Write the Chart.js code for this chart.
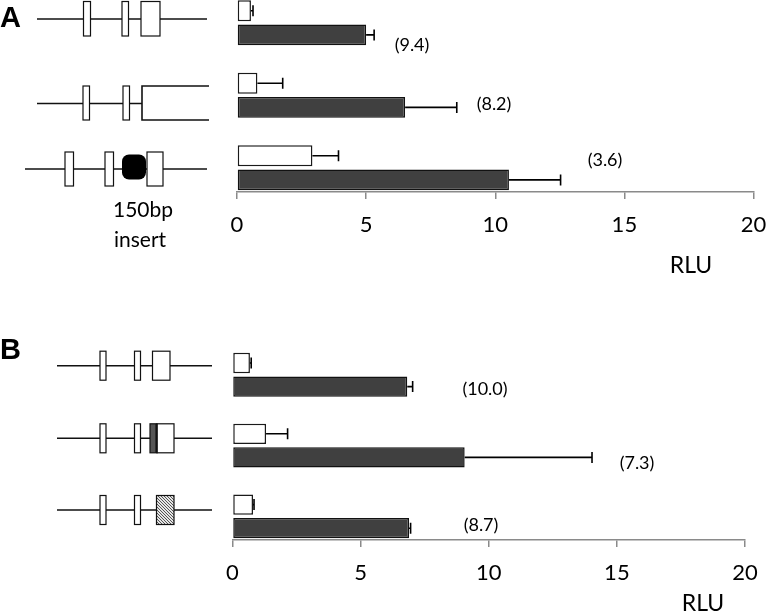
<!DOCTYPE html>
<html>
<head>
<meta charset="utf-8">
<script src="https://cdn.jsdelivr.net/npm/chart.js@4.4.1/dist/chart.umd.min.js"></script>
<style>
  html, body { margin: 0; padding: 0; background: #fff; overflow: hidden; }
  body { width: 766px; height: 613px; position: relative; }
  .panel { position: absolute; left: 0; width: 766px; }
  #panelA { top: -30px; height: 320px; }
  #panelB { top: 300px; height: 313px; }
</style>
</head>
<body>
<div class="panel" id="panelA"><canvas id="chartA"></canvas></div>
<div class="panel" id="panelB"><canvas id="chartB"></canvas></div>
<script>
// constructs (drawn as schematics on the left)
const constructsA = ['full length', '3\' truncated', '150bp insert'];
const constructsB = ['full length', 'mutated', 'replaced'];

// RLU values, white = basal, dark = induced
const basalA = [0.54, 0.79, 2.92];
const basalErrA = [0.08, 0.98, 1.01];
const inducedA = [5.0, 6.51, 10.53];
const inducedErrA = [0.31, 2.0, 2.0];
const foldA = ['(9.4)', '(8.2)', '(3.6)'];

const basalB = [0.68, 1.31, 0.80];
const basalErrB = [0.05, 0.84, 0.04];
const inducedB = [6.82, 9.06, 6.89];
const inducedErrB = [0.21, 4.97, 0.06];
const foldB = ['(10.0)', '(7.3)', '(8.7)'];

const xTicks = [0, 5, 10, 15, 20];

const FONT = 'Lato, "Open Sans", sans-serif';

// page coordinates of the fold labels
const foldPosA = [[412, 45], [494, 104], [605, 160]];
const foldPosB = [[485, 389], [637, 463], [481, 525]];

function box(ctx, x, y, w, h, fill) {
    ctx.fillStyle = fill || '#fff';
    ctx.fillRect(x, y, w, h);
    ctx.strokeRect(x, y, w, h);
}

function hatchBox(ctx, x, y, w, h) {
    ctx.save();
    ctx.fillStyle = '#e6e6e6';
    ctx.fillRect(x, y, w, h);
    ctx.beginPath();
    ctx.rect(x, y, w, h);
    ctx.clip();
    ctx.strokeStyle = '#555';
    ctx.lineWidth = 1;
    ctx.beginPath();
    for (let d = -h; d < w + h; d += 3) {
        ctx.moveTo(x + d, y);
        ctx.lineTo(x + d + h, y + h);
    }
    ctx.stroke();
    ctx.restore();
    ctx.strokeRect(x, y, w, h);
}

function hline(ctx, x0, x1, y) {
    ctx.beginPath();
    ctx.moveTo(x0, y);
    ctx.lineTo(x1, y);
    ctx.stroke();
}

function drawSchemesA(ctx) {
    ctx.strokeStyle = '#111';
    ctx.lineWidth = 1.6;
    // row 1
    hline(ctx, 37, 207, 19);
    ctx.lineWidth = 1.2;
    box(ctx, 83.5, 1.5, 7, 34.5);
    box(ctx, 122, 1.5, 6.5, 34.5);
    box(ctx, 141, 1.5, 19, 34.5);
    // row 2
    ctx.lineWidth = 1.6;
    hline(ctx, 37, 142, 103.5);
    ctx.beginPath();
    ctx.moveTo(209, 86); ctx.lineTo(142, 86); ctx.lineTo(142, 120); ctx.lineTo(209, 120);
    ctx.stroke();
    ctx.lineWidth = 1.2;
    box(ctx, 83, 86, 6.5, 34);
    box(ctx, 123, 86, 6.5, 34);
    // row 3
    ctx.lineWidth = 1.6;
    hline(ctx, 25, 207, 169);
    ctx.lineWidth = 1.2;
    box(ctx, 65, 152, 8.5, 34);
    box(ctx, 105, 152, 8.5, 34);
    ctx.fillStyle = '#000';
    ctx.beginPath();
    ctx.roundRect(122, 154.5, 24, 25, 7);
    ctx.fill();
    box(ctx, 147, 152, 16, 34);

    ctx.fillStyle = '#000';
    ctx.font = '21px ' + FONT;
    ctx.textAlign = 'center';
    ctx.textBaseline = 'alphabetic';
    ctx.fillText('150bp', 143, 217);
    ctx.fillText('insert', 140, 247);

    ctx.font = 'bold 29px "Liberation Sans", Arial, sans-serif';
    ctx.textAlign = 'left';
    ctx.fillText('A', 0, 27);
}

function drawSchemesB(ctx) {
    const rows = [365.7, 438.3, 510];
    rows.forEach(y => {
        ctx.strokeStyle = '#111';
        ctx.lineWidth = 1.6;
        hline(ctx, 57, 212, y);
        ctx.lineWidth = 1.2;
        box(ctx, 100, y - 14.5, 6, 29);
        box(ctx, 134.5, y - 14.5, 6, 29);
    });
    // row 1: wild type exon
    box(ctx, 152.5, rows[0] - 14.5, 17.5, 29);
    // row 2: small dark stretch then exon
    box(ctx, 150, rows[1] - 14.5, 7, 29, '#555');
    box(ctx, 157, rows[1] - 14.5, 17, 29);
    ctx.lineWidth = 2.2;
    ctx.beginPath();
    ctx.moveTo(156.5, rows[1] - 14.5); ctx.lineTo(156.5, rows[1] + 14.5);
    ctx.stroke();
    // row 3: replaced exon
    ctx.lineWidth = 1.2;
    hatchBox(ctx, 156.5, rows[2] - 14.5, 17.5, 29);

    ctx.fillStyle = '#000';
    ctx.font = 'bold 29px "Liberation Sans", Arial, sans-serif';
    ctx.textAlign = 'left';
    ctx.textBaseline = 'alphabetic';
    ctx.fillText('B', 0, 359);
}

function makePanel(canvasId, pageTop, labels, basal, basalErr, induced, inducedErr, folds, foldPos, drawSchemes, area, rluPos) {
    const extras = {
        id: 'extras_' + canvasId,
        afterDatasetsDraw(chart) {
            const ctx = chart.ctx;
            const xs = chart.scales.x;
            ctx.save();
            ctx.strokeStyle = '#000';
            ctx.lineWidth = 1.6;
            [1, 2].forEach(di => {
                const ds = chart.data.datasets[di];
                chart.getDatasetMeta(di).data.forEach((bar, i) => {
                    const x1 = xs.getPixelForValue(ds.data[i] + ds.errors[i]);
                    ctx.beginPath();
                    ctx.moveTo(bar.x, bar.y);
                    ctx.lineTo(x1, bar.y);
                    ctx.moveTo(x1, bar.y - 5.5);
                    ctx.lineTo(x1, bar.y + 5.5);
                    ctx.stroke();
                });
            });
            ctx.restore();
        },
        afterDraw(chart) {
            const ctx = chart.ctx;
            ctx.save();
            ctx.translate(0, -pageTop);
            drawSchemes(ctx);
            ctx.fillStyle = '#000';
            ctx.textAlign = 'center';
            ctx.textBaseline = 'middle';
            ctx.font = '18px ' + FONT;
            folds.forEach((t, i) => ctx.fillText(t, foldPos[i][0], foldPos[i][1]));
            ctx.font = '23px ' + FONT;
            ctx.fillText('RLU', rluPos[0], rluPos[1]);
            ctx.restore();
        }
    };

    return new Chart(document.getElementById(canvasId), {
        type: 'bar',
        data: {
            labels: labels,
            datasets: [
                { label: 'spacer', data: labels.map(() => null) },
                {
                    label: 'basal',
                    data: basal,
                    errors: basalErr,
                    backgroundColor: '#ffffff',
                    borderColor: '#1a1a1a',
                    borderWidth: 1.5,
                    borderSkipped: false
                },
                {
                    label: 'induced',
                    data: induced,
                    errors: inducedErr,
                    backgroundColor: '#404040',
                    borderColor: '#111111',
                    borderWidth: 1.5,
                    borderSkipped: false
                }
            ]
        },
        options: {
            indexAxis: 'y',
            responsive: true,
            maintainAspectRatio: false,
            animation: false,
            categoryPercentage: 1.0,
            barPercentage: 0.86,
            layout: { padding: { top: area.top, left: area.left, right: area.right, bottom: 0 } },
            plugins: {
                legend: { display: false },
                tooltip: { enabled: false }
            },
            scales: {
                x: {
                    type: 'linear',
                    min: 0,
                    max: 20,
                    afterBuildTicks: s => { s.ticks = xTicks.map(v => ({ value: v })); },
                    afterFit: s => {
                        s.height = area.axisHeight;
                        // the last label only needs half its width, the outer padding covers it
                        s.paddingLeft = 0;
                        s.paddingRight = 0;
                    },
                    ticks: {
                        color: '#000',
                        font: { family: FONT, size: 22 },
                        padding: 13,
                        maxRotation: 0
                    },
                    grid: {
                        drawOnChartArea: false,
                        drawTicks: true,
                        tickLength: 7,
                        color: '#8a8a8a',
                        lineWidth: 1.5
                    },
                    border: { color: '#8a8a8a', width: 1.5 }
                },
                y: {
                    type: 'category',
                    display: false
                }
            }
        },
        plugins: [extras]
    });
}

makePanel('chartA', -30, constructsA, basalA, basalErrA, inducedA, inducedErrA, foldA, foldPosA, drawSchemesA,
    { top: 4.5, left: 237, right: 12.5, axisHeight: 98 }, [691, 266]);
makePanel('chartB', 300, constructsB, basalB, basalErrB, inducedB, inducedErrB, foldB, foldPosB, drawSchemesB,
    { top: 27.6, left: 232.5, right: 21, axisHeight: 73 }, [703, 604]);
</script>
</body>
</html>
